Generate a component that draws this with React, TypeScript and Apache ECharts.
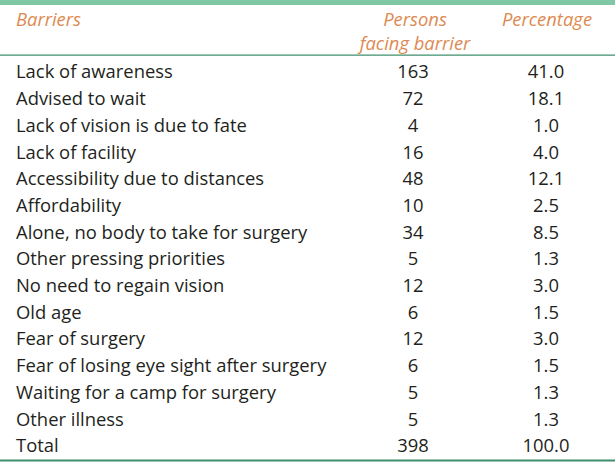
import React, { useEffect, useRef } from "react";
import * as echarts from "echarts";

const barriers = [
  "Lack of awareness",
  "Advised to wait",
  "Lack of vision is due to fate",
  "Lack of facility",
  "Accessibility due to distances",
  "Affordability",
  "Alone, no body to take for surgery",
  "Other pressing priorities",
  "No need to regain vision",
  "Old age",
  "Fear of surgery",
  "Fear of losing eye sight after surgery",
  "Waiting for a camp for surgery",
  "Other illness",
  "Total",
];
const persons = [163, 72, 4, 16, 48, 10, 34, 5, 12, 6, 12, 6, 5, 5, 398];
const percentage = [41.0, 18.1, 1.0, 4.0, 12.1, 2.5, 8.5, 1.3, 3.0, 1.5, 3.0, 1.5, 1.3, 1.3, 100.0];
const headers = ["Barriers", "Persons\nfacing barrier", "Percentage"];

const FONT = "Open Sans";
const FS = 18.4;
const HFS = 18.4;
const TEXT = "#231f20";
const ORANGE = "#dd8a52";
const PERSONS_X = 413;
const PCT_X = 546;

export default function App() {
  const ref = useRef<HTMLDivElement>(null);
  useEffect(() => {
    const chart = echarts.init(ref.current!, null, { renderer: "svg" });
    const cell = (colX: number, fmt: (v: number) => string) => (params: any, api: any) => {
      const p = api.coord([colX, api.value(0)]);
      return {
        type: "text",
        x: p[0],
        y: p[1],
        style: {
          text: fmt(api.value(1)),
          textAlign: "center",
          textVerticalAlign: "middle",
          fontFamily: FONT,
          fontSize: FS,
          fill: TEXT,
        },
      };
    };
    chart.setOption({
      animation: false,
      grid: { left: 0, right: 0, top: 57.6, height: 400.5 },
      xAxis: { type: "value", min: 0, max: 615, show: false },
      yAxis: {
        type: "category",
        inverse: true,
        data: barriers,
        axisLine: { show: false },
        axisTick: { show: false },
        splitLine: { show: false },
        axisLabel: {
          inside: true,
          margin: 16,
          align: "left",
          fontFamily: FONT,
          fontSize: FS,
          color: TEXT,
        },
      },
      series: [
        {
          type: "custom",
          renderItem: cell(PERSONS_X, (v) => String(v)),
          data: persons.map((v, i) => [i, v]),
          encode: { y: 0 },
        },
        {
          type: "custom",
          renderItem: cell(PCT_X, (v) => v.toFixed(1)),
          data: percentage.map((v, i) => [i, v]),
          encode: { y: 0 },
        },
      ],
      graphic: [
        { type: "rect", shape: { x: 0, y: 0, width: 615, height: 5 }, style: { fill: "#80c8a5" } },
        { type: "rect", shape: { x: 0, y: 54.5, width: 615, height: 1.2 }, style: { fill: "#3f8f6e" } },
        { type: "rect", shape: { x: 0, y: 459.5, width: 615, height: 2 }, style: { fill: "#3f8f6e" } },
        {
          type: "text", x: 16, y: 18,
          style: { text: headers[0], textAlign: "left", textVerticalAlign: "middle", fontFamily: FONT, fontSize: HFS, fontStyle: "italic", fill: ORANGE },
        },
        {
          type: "text", x: PERSONS_X + 2, y: 30,
          style: { text: headers[1], textAlign: "center", textVerticalAlign: "middle", fontFamily: FONT, fontSize: HFS, fontStyle: "italic", fill: ORANGE, lineHeight: 24 },
        },
        {
          type: "text", x: 547, y: 18,
          style: { text: headers[2], textAlign: "center", textVerticalAlign: "middle", fontFamily: FONT, fontSize: HFS, fontStyle: "italic", fill: ORANGE },
        },
      ],
    });
    return () => chart.dispose();
  }, []);
  return <div ref={ref} style={{ width: 615, height: 463, position: "absolute", left: 0, top: 0, background: "#fff" }} />;
}
